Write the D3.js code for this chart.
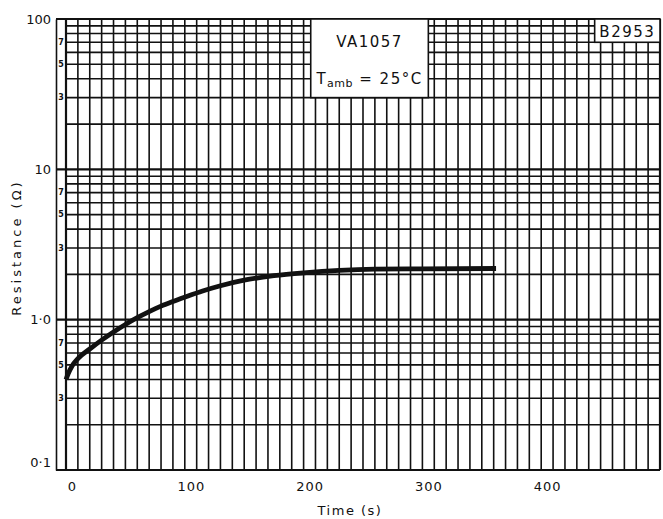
<!DOCTYPE html>
<html>
<head>
<meta charset="utf-8">
<script src="https://cdn.jsdelivr.net/npm/d3@7"></script>
<style>
  body { margin: 0; background: #fff; }
  #graf text { font-family: "DejaVu Sans", sans-serif; fill: #111; }
</style>
</head>
<body>
<div id="graf"></div>
<script>
// datos
const tiempo = [0, 2, 5, 10, 20, 30, 40, 50, 60, 70, 80, 90, 100, 115, 130, 150, 175, 200, 230, 260, 300, 362];
const resistencia = [0.40, 0.44, 0.49, 0.55, 0.638, 0.731, 0.828, 0.929, 1.03, 1.13, 1.23, 1.32, 1.41, 1.55, 1.68, 1.83, 1.96, 2.05, 2.13, 2.17, 2.18, 2.19];

const ticksTiempo = [0, 100, 200, 300, 400];
const ticksDecada = [0.1, 1, 10, 100];
const etiquetasDecada = ["0·1", "1·0", "10", "100"];
const ticksMenores = [0.3, 0.5, 0.7, 3, 5, 7, 30, 50, 70];

const ancho_total = 663;
const alto_total = 519;

const svg = d3.select("#graf")
  .append("svg")
  .attr("width", ancho_total)
  .attr("height", alto_total);

const x = d3.scaleLinear().domain([0, 500]).range([66, 660]);
const y = d3.scaleLog().domain([0.1, 100]).range([470, 19]);

const ejeX0 = 56;
const tinta = "#111";

// rejilla vertical, cada 10 s
svg.append("g")
  .selectAll("line")
  .data(x.ticks(50))
  .join("line")
  .attr("x1", d => x(d))
  .attr("x2", d => x(d))
  .attr("y1", y(100))
  .attr("y2", y(0.1))
  .attr("stroke", tinta)
  .attr("stroke-width", d => (d === 0 || d === 500) ? 2.2 : 1.6);

// rejilla horizontal logaritmica
svg.append("g")
  .selectAll("line")
  .data(y.ticks())
  .join("line")
  .attr("x1", d => ticksDecada.includes(d) ? ejeX0 : x(0))
  .attr("x2", x(500))
  .attr("y1", d => y(d))
  .attr("y2", d => y(d))
  .attr("stroke", tinta)
  .attr("stroke-width", d => ticksDecada.includes(d) ? 2.2 : 1.6);

// eje Y
const ejeY = svg.append("g")
  .attr("transform", `translate(${ejeX0},0)`)
  .call(d3.axisLeft(y).tickValues(ticksDecada).tickSize(0).tickPadding(5)
    .tickFormat((d, i) => etiquetasDecada[i]));
ejeY.select(".domain").attr("stroke", tinta).attr("stroke-width", 1.6);
ejeY.selectAll("text")
  .style("font-size", "13px")
  .attr("dy", d => d === 0.1 ? "-0.25em" : "0.32em");

svg.append("g")
  .selectAll("text")
  .data(ticksMenores)
  .join("text")
  .attr("x", 61)
  .attr("y", d => y(d))
  .attr("dy", "0.35em")
  .attr("text-anchor", "middle")
  .style("font-size", "8px")
  .style("font-weight", "bold")
  .text(d => String(d).replace("0.", "").replace(/0$/, ""));

// eje X
const ejeX = svg.append("g")
  .attr("transform", `translate(0,${y(0.1)})`)
  .call(d3.axisBottom(x).tickValues(ticksTiempo).tickSize(0).tickPadding(12));
ejeX.select(".domain").remove();
ejeX.selectAll("text")
  .attr("dx", "6px")
  .style("font-size", "13px")
  .style("letter-spacing", "1px");

svg.append("text")
  .attr("x", 350)
  .attr("y", 515)
  .attr("text-anchor", "middle")
  .style("font-size", "13px")
  .style("letter-spacing", "1.5px")
  .text("Time (s)");

svg.append("text")
  .attr("transform", `translate(21, ${(y(10) + y(1)) / 2 + 3}) rotate(-90)`)
  .attr("text-anchor", "middle")
  .style("font-size", "13px")
  .style("letter-spacing", "3px")
  .text("Resistance (Ω)");

// curva
const linea = d3.line()
  .x(d => x(d[0]))
  .y(d => y(d[1]))
  .curve(d3.curveMonotoneX);

svg.append("path")
  .datum(tiempo.map((t, i) => [t, resistencia[i]]))
  .attr("d", linea)
  .attr("fill", "none")
  .attr("stroke", tinta)
  .attr("stroke-width", 4.8)
  .attr("stroke-linecap", "butt");

// recuadros
const caja = svg.append("g");
caja.append("rect")
  .attr("x", x(206))
  .attr("y", y(100))
  .attr("width", x(305) - x(206))
  .attr("height", y(30) - y(100))
  .attr("fill", "#fff")
  .attr("stroke", tinta)
  .attr("stroke-width", 1.6);

caja.append("text")
  .attr("x", (x(206) + x(305)) / 2)
  .attr("y", 47)
  .attr("text-anchor", "middle")
  .style("font-size", "15px")
  .style("letter-spacing", "1.5px")
  .text("VA1057");

const tamb = caja.append("text")
  .attr("x", (x(206) + x(305)) / 2)
  .attr("y", 84)
  .attr("text-anchor", "middle")
  .style("font-size", "15px")
  .style("letter-spacing", "1.5px");
tamb.append("tspan").text("T");
tamb.append("tspan").attr("dy", 3).style("font-size", "11px").style("letter-spacing", "0.5px").text("amb");
tamb.append("tspan").attr("dy", -3).text(" = 25°C");

caja.append("rect")
  .attr("x", x(445))
  .attr("y", y(100))
  .attr("width", x(500) - x(445))
  .attr("height", y(70) - y(100))
  .attr("fill", "#fff")
  .attr("stroke", tinta)
  .attr("stroke-width", 1.6);

caja.append("text")
  .attr("x", (x(445) + x(500)) / 2)
  .attr("y", 37)
  .attr("text-anchor", "middle")
  .style("font-size", "15px")
  .style("letter-spacing", "1.5px")
  .text("B2953");
</script>
</body>
</html>
